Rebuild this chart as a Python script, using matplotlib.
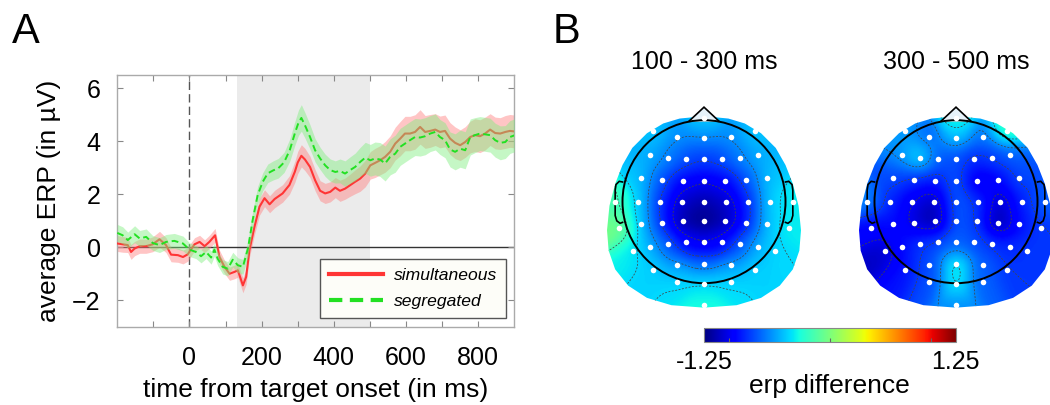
import numpy as np
import matplotlib
matplotlib.use("Agg")
import matplotlib.pyplot as plt
from matplotlib.patches import Polygon, Circle
from matplotlib.lines import Line2D
from matplotlib.colors import Normalize
import matplotlib.colorbar as mcolorbar

plt.rcParams['font.family'] = ['Liberation Sans', 'DejaVu Sans']

# ---- panel A: ERP time courses ----
t_sim = [-200, -185, -171, -162, -152, -138, -120, -102, -83, -65, -51, -32, -18, -5, 14,
         28, 42, 55, 71, 83, 97, 111, 125, 134, 148, 157, 166, 180, 194, 208,
         222, 236, 258, 277, 292, 300, 310, 320, 334, 348, 362, 376, 390, 404, 417,
         431, 445, 459, 473, 487, 501, 514, 528, 542, 556, 570, 584, 597, 611, 625,
         639, 653, 667, 681, 694, 708, 722, 736, 750, 764, 778, 791, 805, 819, 833,
         847, 861, 875, 888, 900]
erp_sim = [0.14, 0.11, 0.08, -0.18, -0.05, 0.04, 0.04, 0.11, 0.30, 0.08, -0.28, -0.30, -0.37, -0.27, 0.11,
           0.20, 0.04, 0.20, 0.45, -0.37, -0.74, -1.00, -0.93, -0.87, -1.44, -1.12, -0.11, 0.77, 1.53, 1.85,
           1.62, 1.82, 2.03, 2.35, 2.85, 3.20, 3.45, 3.31, 3.03, 2.53, 2.13, 2.03, 2.09, 2.25, 2.13,
           2.21, 2.34, 2.47, 2.59, 2.78, 3.09, 3.18, 3.28, 3.41, 3.60, 3.91, 4.10, 4.29, 4.29, 4.35,
           4.54, 4.35, 4.39, 4.44, 4.35, 4.39, 4.10, 3.94, 3.85, 3.97, 4.16, 4.23, 4.19, 4.29, 4.44,
           4.31, 4.29, 4.35, 4.39, 4.37]
sem_sim = [0.30, 0.30, 0.28, 0.28, 0.27, 0.27, 0.27, 0.28, 0.30, 0.28, 0.27, 0.27, 0.26, 0.26,
           0.25, 0.25, 0.24, 0.25, 0.26, 0.26,
           0.25, 0.25, 0.26, 0.26, 0.28, 0.28, 0.28,
           0.30, 0.32, 0.32, 0.32, 0.33, 0.33, 0.35, 0.40,
           0.42, 0.42, 0.42, 0.40, 0.40, 0.38, 0.38, 0.38, 0.38, 0.40, 0.40, 0.42, 0.45, 0.48, 0.50, 0.52,
           0.55, 0.55, 0.58, 0.60, 0.62, 0.65, 0.65, 0.65, 0.65, 0.65, 0.62, 0.62, 0.60, 0.60, 0.60,
           0.60, 0.60, 0.58, 0.58, 0.60, 0.62, 0.62, 0.62, 0.60, 0.60, 0.60, 0.62, 0.62, 0.62]

t_seg = [-200, -185, -171, -152, -138, -120, -102, -83, -65, -42, -18, 0, 18, 32, 46,
         60, 69, 78, 92, 106, 120, 134, 148, 162, 175, 189, 203, 217, 232, 246,
         262, 278, 292, 302, 310, 320, 334, 348, 362, 376, 390, 404, 417, 431, 445,
         459, 473, 487, 501, 514, 528, 542, 556, 570, 584, 597, 611, 625, 639, 653,
         667, 681, 694, 708, 722, 736, 750, 764, 778, 791, 805, 819, 833, 847, 861,
         875, 888, 900]
erp_seg = [0.54, 0.45, 0.27, 0.49, 0.33, 0.39, 0.16, 0.08, 0.20, 0.24, 0.14, -0.09, -0.18, -0.34, -0.18,
           -0.39, -0.09, -0.43, -0.74, -0.81, -0.47, -0.68, -0.74, -0.05, 1.02, 1.97, 2.47, 2.79, 2.90, 2.98,
           3.20, 3.67, 4.30, 4.70, 4.88, 4.60, 4.16, 3.66, 3.35, 3.09, 2.91, 2.84, 2.88, 2.78, 2.91,
           3.03, 3.22, 3.38, 3.28, 3.35, 3.31, 3.16, 3.41, 3.53, 3.79, 3.91, 4.04, 4.16, 4.14, 4.19,
           4.29, 4.35, 4.16, 4.04, 3.69, 3.60, 3.72, 3.66, 4.16, 4.23, 4.29, 4.26, 4.23, 4.04, 3.94,
           3.97, 4.16, 4.22]
sem_seg = [0.32, 0.32, 0.30, 0.32, 0.30, 0.30, 0.28, 0.28, 0.28, 0.28, 0.28, 0.26,
           0.25, 0.25, 0.25, 0.25, 0.25, 0.26, 0.27, 0.27, 0.28, 0.28, 0.28,
           0.30, 0.32, 0.33, 0.34, 0.35, 0.36, 0.37, 0.38, 0.42, 0.45,
           0.48, 0.50, 0.48, 0.46, 0.44, 0.42, 0.42, 0.42, 0.42, 0.45, 0.48, 0.50, 0.52, 0.55, 0.58, 0.60,
           0.62, 0.64, 0.66, 0.68, 0.70, 0.70, 0.70, 0.70, 0.70, 0.70, 0.70, 0.68, 0.68, 0.66, 0.66,
           0.66, 0.68, 0.70, 0.70, 0.68, 0.66, 0.64, 0.64, 0.64, 0.64, 0.64, 0.62, 0.62, 0.62]

window = (132, 500)   # grey analysis window
series_labels = ['simultaneous', 'segregated']

# ---- panel B: scalp maps (electrode positions in head radii) ----
elec_x = [0, -0.62, 0.62, -0.33, 0, 0.33,
          -0.66, -0.44, -0.22, 0, 0.22, 0.44, 0.66,
          -0.77, -0.52, -0.26, 0, 0.26, 0.52, 0.77,
          -1.09, -0.81, -0.54, -0.27, 0, 0.27, 0.54, 0.81, 1.09,
          -1.04, -0.77, -0.52, -0.26, 0, 0.26, 0.52, 0.77, 1.04,
          -0.87, -0.66, -0.44, -0.22, 0, 0.22, 0.44, 0.66, 0.87,
          -0.62, -0.33, 0, 0.33, 0.62,
          -0.33, 0, 0.33,
          0]
elec_y = [1.03, 0.87, 0.87, 0.79, 0.78, 0.79,
          0.57, 0.54, 0.52, 0.52, 0.52, 0.54, 0.57,
          0.29, 0.27, 0.26, 0.26, 0.26, 0.27, 0.29,
          0, 0, 0, 0, 0, 0, 0, 0, 0,
          -0.32, -0.27, -0.26, -0.24, -0.24, -0.24, -0.26, -0.27, -0.32,
          -0.61, -0.55, -0.52, -0.50, -0.50, -0.50, -0.52, -0.55, -0.61,
          -0.84, -0.78, -0.76, -0.78, -0.84,
          -0.98, -1.01, -0.98,
          -1.27]
diff_100_300 = [-0.42, -0.45, -0.45, -0.58, -0.60, -0.58,
                -0.50, -0.62, -0.75, -0.80, -0.75, -0.62, -0.50,
                -0.45, -0.75, -0.95, -1.00, -0.95, -0.75, -0.45,
                -0.15, -0.42, -0.82, -1.08, -1.15, -1.08, -0.85, -0.42, -0.35,
                -0.02, -0.45, -0.85, -1.18, -1.25, -1.15, -0.90, -0.45, -0.35,
                -0.35, -0.50, -0.72, -0.95, -1.00, -0.95, -0.72, -0.50, -0.40,
                -0.42, -0.58, -0.68, -0.58, -0.42,
                -0.38, -0.38, -0.38,
                -0.30]
diff_300_500 = [-0.30, -0.55, -0.20, -0.70, -0.45, -0.65,
                -0.60, -0.30, -0.75, -0.75, -0.85, -0.80, -0.70,
                -0.75, -0.85, -0.90, -0.70, -1.05, -0.95, -0.75,
                -0.60, -0.85, -1.00, -1.12, -0.70, -0.80, -1.10, -0.85, -0.70,
                -0.95, -0.90, -1.05, -1.22, -0.70, -0.80, -1.22, -0.90, -0.80,
                -1.10, -0.90, -0.80, -0.75, -0.70, -0.75, -0.80, -0.85, -0.80,
                -0.90, -0.75, -0.30, -0.70, -0.80,
                -0.75, -0.35, -0.70,
                -0.60]
map_titles = ['100 - 300 ms', '300 - 500 ms']
clim = 1.25

# outline of the interpolated area (left half, mirrored below)
edge_half = [(0, 1.05), (-0.3, 1.02), (-0.5, 0.96), (-0.7, 0.84), (-0.88, 0.66), (-1.0, 0.45),
             (-1.09, 0.22), (-1.16, -0.05), (-1.19, -0.35), (-1.17, -0.6), (-1.09, -0.83),
             (-0.93, -1.03), (-0.7, -1.18), (-0.4, -1.27), (0, -1.3)]

W, H = 1050, 405
fig = plt.figure(figsize=(W / 100, H / 100), dpi=100)


def fx(x):
    return x / W


def fy(y):
    return 1 - y / H


# ---------- panel A ----------
ax = fig.add_axes([fx(117.3), fy(326.7), (514.3 - 117.3) / W, (326.7 - 75) / H])
ax.axvspan(window[0], window[1], color='#ebebeb', lw=0, zorder=0)
ax.axhline(0, color='#333333', lw=1.0, zorder=1)
ax.axvline(0, color='#555555', lw=1.0, ls=(0, (6, 3)), zorder=1)

ts, es, ss = np.array(t_sim), np.array(erp_sim), np.array(sem_sim)
tg, eg, sg = np.array(t_seg), np.array(erp_seg), np.array(sem_seg)
ax.fill_between(ts, es - ss, es + ss, color='#ff8080', alpha=0.45, lw=0, zorder=2)
ax.plot(ts, es, color='#ff3535', lw=1.5, zorder=3)
ax.fill_between(tg, eg - sg, eg + sg, color='#80ee80', alpha=0.45, lw=0, zorder=4)
ax.plot(tg, eg, color='#22e022', lw=1.4, ls=(0, (3.5, 2)), zorder=5)

ax.set_xlim(-200, 900)
ax.set_ylim(-3, 6.5)
xt = list(range(-100, 900, 100))
ax.set_xticks(xt)
ax.set_xticklabels([str(v) if v >= 0 and v % 200 == 0 else '' for v in xt])
ax.set_yticks([-2, 0, 2, 4, 6])
ax.tick_params(direction='in', length=4, width=0.8, color='#888888', top=True, right=True,
               labelsize=18)
ax.tick_params(axis='x', pad=14)
ax.tick_params(axis='y', pad=12)
for s in ax.spines.values():
    s.set_color('#aaaaaa')
    s.set_linewidth(1.0)
ax.set_xlabel('time from target onset (in ms)', fontsize=19, labelpad=6)
ax.set_ylabel('average ERP (in µV)', fontsize=19, labelpad=8)

handles = [Line2D([], [], color='#ff3535', lw=3),
           Line2D([], [], color='#22e022', lw=3, ls=(0, (3.2, 1.8)))]
leg = ax.legend(handles, series_labels, loc='lower right', bbox_to_anchor=(1, 0),
                borderaxespad=0.5, prop={'size': 12.6, 'style': 'italic'},
                handlelength=3.1, handletextpad=0.6, labelspacing=0.6, borderpad=0.5,
                fancybox=False, framealpha=1)
leg.get_frame().set_facecolor('#fdfdf8')
leg.get_frame().set_edgecolor('#555555')
leg.get_frame().set_linewidth(1.0)

fig.text(fx(12), fy(12), 'A', fontsize=30, ha='left', va='top')
fig.text(fx(553), fy(12), 'B', fontsize=30, ha='left', va='top')


# ---------- panel B ----------
def smooth_map(xe, ye, ve, xq, yq, sigma=0.14):
    # gaussian weighted average of the electrode values
    xe, ye, ve = np.array(xe), np.array(ye), np.array(ve)
    d2 = (xq.ravel()[:, None] - xe[None, :]) ** 2 + (yq.ravel()[:, None] - ye[None, :]) ** 2
    w = np.exp(-d2 / (2 * sigma ** 2)) + 1e-12
    return ((w @ ve) / w.sum(axis=1)).reshape(xq.shape)


edge = edge_half + [(-x, y) for x, y in edge_half[::-1]][1:-1]
r_px = 81.5
x0, x1, y0, y1 = -1.3, 1.3, -1.35, 1.25
gx, gy = np.meshgrid(np.linspace(x0, x1, 240), np.linspace(y0, y1, 240))
centers = [(704, 201.7), (956, 201.7)]
maps = [diff_100_300, diff_300_500]

for (cx, cy), vals, title in zip(centers, maps, map_titles):
    hax = fig.add_axes([fx(cx + x0 * r_px), fy(cy - y0 * r_px),
                        (x1 - x0) * r_px / W, (y1 - y0) * r_px / H])
    hax.set_xlim(x0, x1)
    hax.set_ylim(y0, y1)
    hax.axis('off')
    zi = smooth_map(elec_x, elec_y, vals, gx, gy)
    clip = Polygon(edge, closed=True, facecolor='none', edgecolor='none',
                   transform=hax.transData)
    hax.add_patch(clip)
    im = hax.imshow(zi, extent=(x0, x1, y0, y1), origin='lower', cmap='jet',
                    vmin=-clim, vmax=clim, interpolation='bilinear', aspect='auto')
    im.set_clip_path(clip)
    cs = hax.contour(gx, gy, zi, levels=[-1.0, -0.8, -0.6, -0.4, -0.2],
                     colors='#444444', linewidths=0.55, linestyles=[(0, (2.5, 2))])
    cs.set_clip_path(clip)
    # head outline, nose, ears
    hax.add_patch(Circle((0, 0), 1.0, fill=False, lw=1.4, color='black', zorder=5))
    hax.add_patch(Polygon([(-0.19, 0.982), (0, 1.16), (0.19, 0.982)], closed=False,
                          facecolor='#e6f2fa', edgecolor='black', lw=1.2, zorder=4))
    ear = [(-0.99, 0.24), (-1.04, 0.25), (-1.08, 0.21), (-1.09, 0.14), (-1.09, -0.17),
           (-1.07, -0.235), (-1.03, -0.265), (-0.99, -0.25)]
    for sgn in (1, -1):
        pts = [(sgn * x, y) for x, y in ear]
        hax.add_patch(Polygon(pts, closed=False, facecolor='none', edgecolor='black',
                              lw=1.2, zorder=4))
    hax.scatter(elec_x, elec_y, s=16, color='white', lw=0, zorder=6)
    fig.text(fx(cx), fy(62), title, fontsize=18, ha='center', va='center')

cax = fig.add_axes([fx(704), fy(342.3), 252 / W, 14.6 / H])
cb = mcolorbar.ColorbarBase(cax, cmap=plt.get_cmap('jet'), norm=Normalize(-clim, clim),
                            orientation='horizontal')
cb.set_ticks([-1, 0, 1])
cb.set_ticklabels(['', '', ''])
cax.tick_params(direction='in', length=3, color='#666666')
cb.outline.set_edgecolor('#888888')
fig.text(fx(704), fy(362), '-1.25', fontsize=18, ha='center', va='center')
fig.text(fx(955), fy(362), '1.25', fontsize=18, ha='center', va='center')
fig.text(fx(829.5), fy(386), 'erp difference', fontsize=19, ha='center', va='center')

fig.savefig('out.png', dpi=100)
